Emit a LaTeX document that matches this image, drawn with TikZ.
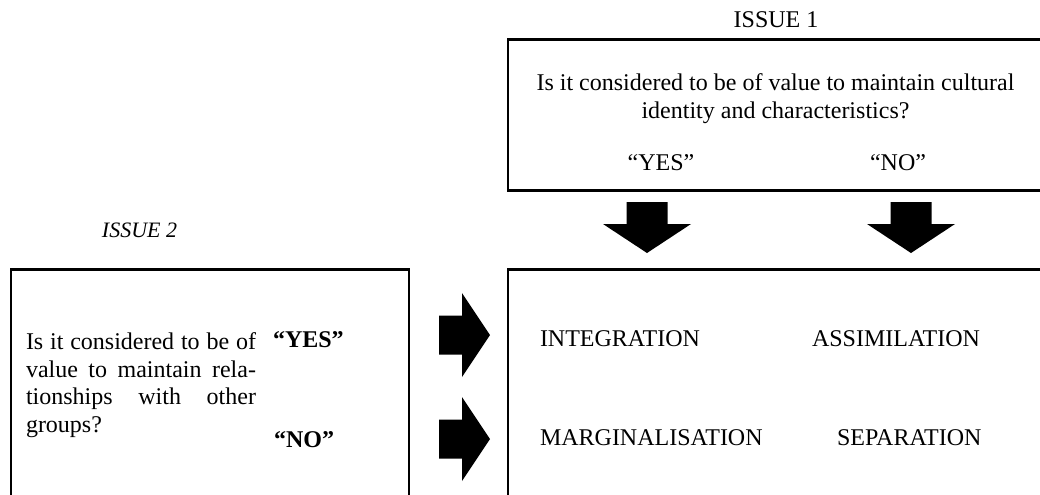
\documentclass[tikz,border=0pt]{standalone}
\usepackage{fontspec}
\setmainfont{Liberation Serif}
\begin{document}
\begin{tikzpicture}[x=0.5pt, y=-0.5pt, font=\fontsize{12}{13.8}\selectfont]
	\tikzstyle{box} = [draw, line width=1.2pt, anchor=north west, inner sep=0pt, outer sep=0pt]
	\tikzstyle{txt} = [inner sep=0pt, outer sep=0pt]
	\tikzstyle{bold} = [txt, anchor=base west, font=\fontsize{12}{13.8}\selectfont\bfseries]
	\useasboundingbox (0,0) rectangle (1040,494);
	\clip (0,0) rectangle (1040,494);
	\node[box, minimum width=271pt, minimum height=75.5pt](boxone) at (508,39.5) {};
	\node[box, minimum width=199pt, minimum height=115.5pt](boxtwo) at (10.7,269.3) {};
	\node[box, minimum width=271pt, minimum height=115.5pt](result) at (508,269.3) {};
	\node[txt, anchor=base](issueone) at (776,27) {ISSUE 1};
	\node[txt, anchor=base, font=\fontsize{11}{13}\selectfont\itshape](issuetwo) at (139.5,237) {ISSUE 2};
	\node[txt, anchor=north, align=center](qone) at (775.5,73.5) {Is it considered to be of value to maintain cultural\\identity and characteristics?};
	\node[txt, anchor=base](yesone) at (661,170) {“YES”};
	\node[txt, anchor=base](noone) at (898,170) {“NO”};
	\node[txt, anchor=north west, text width=115pt, align=justify](qtwo) at (26,332.5) {Is it considered to be of\linebreak value to maintain rela-\linebreak tionships with other\linebreak groups?};
	\node[bold](yestwo) at (273,347) {“YES”};
	\node[bold](notwo) at (274,447) {“NO”};
	\node[txt, anchor=base west](integ) at (540,346) {INTEGRATION};
	\node[txt, anchor=base west](assim) at (812,346) {ASSIMILATION};
	\node[txt, anchor=base west](margin) at (540,445) {MARGINALISATION};
	\node[txt, anchor=base west](separ) at (837,445) {SEPARATION};
	\foreach \cx in {647,911}
		\fill (\cx-20.5,202) -- (\cx+20.5,202) -- (\cx+20.5,224) -- (\cx+44,224) -- (\cx,253) -- (\cx-44,224) -- (\cx-20.5,224) -- cycle;
	\foreach \cy in {335,439}
		\fill (439,\cy-19.5) -- (462,\cy-19.5) -- (462,\cy-42) -- (490,\cy) -- (462,\cy+42) -- (462,\cy+19.5) -- (439,\cy+19.5) -- cycle;
\end{tikzpicture}
\end{document}
